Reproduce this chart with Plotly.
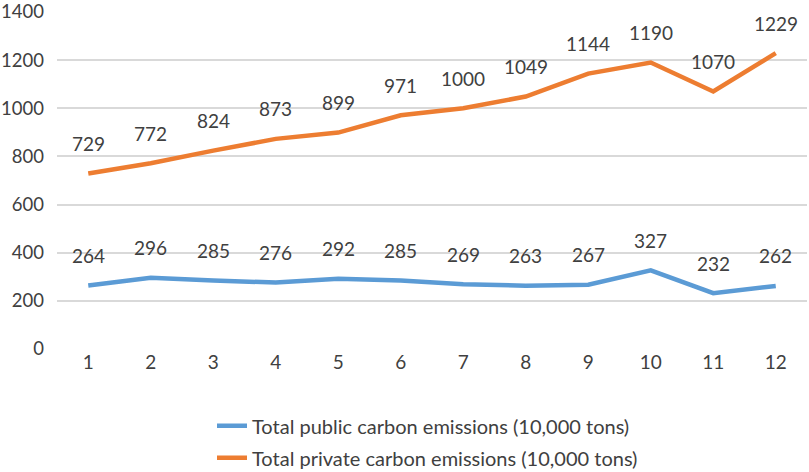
import plotly.graph_objects as go

months = [1, 2, 3, 4, 5, 6, 7, 8, 9, 10, 11, 12]
public_emissions = [264, 296, 285, 276, 292, 285, 269, 263, 267, 327, 232, 262]
private_emissions = [729, 772, 824, 873, 899, 971, 1000, 1049, 1144, 1190, 1070, 1229]
public_name = "Total public carbon emissions (10,000 tons)"
private_name = "Total private carbon emissions (10,000 tons)"
y_ticks = [0, 200, 400, 600, 800, 1000, 1200, 1400]

BLUE = "#5B9BD5"
ORANGE = "#ED7D31"
TXT = "#404040"
FONT = "Lato"

fig = go.Figure()
fig.add_trace(go.Scatter(x=months, y=public_emissions, mode="lines", name=public_name,
                         legendgroup="a",
                         line=dict(color=BLUE, width=4.5)))
fig.add_trace(go.Scatter(x=months, y=private_emissions, mode="lines", name=private_name,
                         legendgroup="b",
                         line=dict(color=ORANGE, width=4.5)))

annotations = []
for series in (public_emissions, private_emissions):
    for xv, yv in zip(months, series):
        annotations.append(dict(x=xv, y=yv, text=str(yv), showarrow=False,
                                yshift=30, font=dict(family=FONT, size=19, color=TXT)))

fig.update_layout(
    width=809, height=472,
    margin=dict(l=57, r=2, t=12, b=123, autoexpand=False),
    paper_bgcolor="white", plot_bgcolor="white",
    font=dict(family=FONT, size=19, color=TXT),
    showlegend=True,
    legend=dict(orientation="v", x=0.494, xanchor="center", y=-0.17, yanchor="top",
                font=dict(family=FONT, size=20, color=TXT), tracegroupgap=3),
    annotations=annotations,
    xaxis=dict(range=[0.5, 12.5], tickmode="array", tickvals=months,
               ticktext=[str(m) for m in months], showgrid=False, zeroline=False,
               showline=False, ticks="", automargin=False,
               tickfont=dict(size=19, color=TXT)),
    yaxis=dict(range=[0, 1400], tickmode="array", tickvals=y_ticks,
               showgrid=True, gridcolor="#D9D9D9", gridwidth=1.5, zeroline=False,
               showline=False, ticks="", automargin=False, ticklabelstandoff=12,
               ticklabeloverflow="allow",
               tickfont=dict(size=18.5, color=TXT)),
)

fig.write_html("out.html", config={"displayModeBar": False},
               post_script="document.body.style.margin='0';")
